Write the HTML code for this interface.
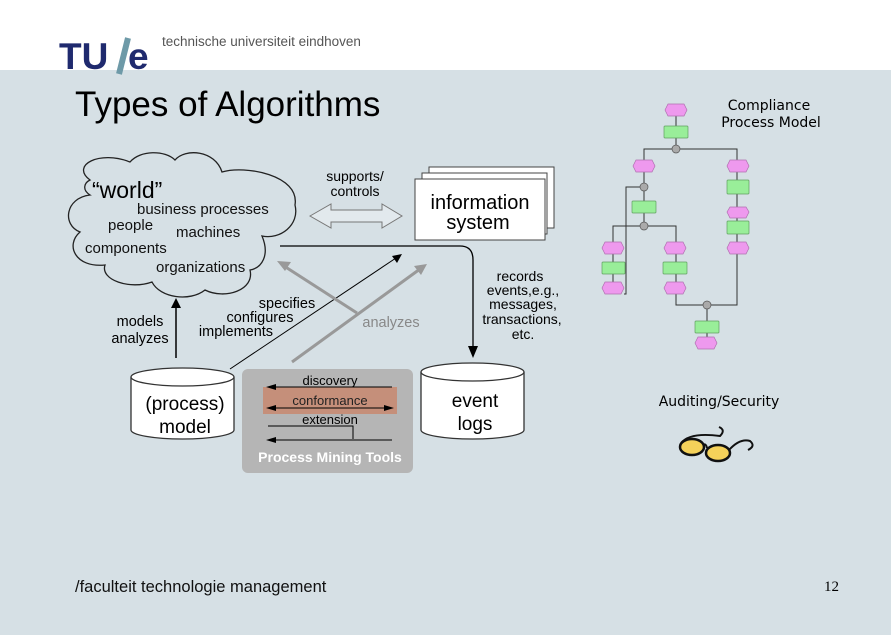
<!DOCTYPE html>
<html><head><meta charset="utf-8"><style>
body{margin:0;width:891px;height:630px;overflow:hidden;background:#d6e0e5;font-family:"Liberation Sans",sans-serif}
</style></head><body>
<svg width="891" height="630" viewBox="0 0 891 630" xmlns="http://www.w3.org/2000/svg" font-family="Liberation Sans, sans-serif">
<rect x="0" y="0" width="891" height="70" fill="#fff"/>
<rect x="0" y="70" width="891" height="560" fill="#d6e0e5"/>
<text x="59" y="69" font-size="37" font-weight="bold" fill="#1f2a6e">TU</text>
<line x1="119" y1="74" x2="128" y2="38" stroke="#6e9aa8" stroke-width="6"/>
<text x="128" y="69" font-size="37" font-weight="bold" fill="#1f2a6e">e</text>
<text x="162" y="46" font-size="13.5" fill="#555">technische universiteit eindhoven</text>
<text x="75" y="116" font-size="35" fill="#000">Types of Algorithms</text>

<!-- cloud -->
<path d="M90,180 C70,165 100,150 130,162 C140,150 165,150 175,160 C185,148 215,150 222,172 C245,165 300,175 295,205 C300,225 280,240 262,236 C270,255 262,268 250,270 C255,290 225,300 205,290 C190,302 160,298 152,282 C130,290 100,280 105,265 C75,268 65,245 80,232 C62,225 65,198 90,195 C82,190 84,183 90,180 Z" fill="#d6e0e5" stroke="#222" stroke-width="1.3"/>
<text x="92" y="198" font-size="23">“world”</text>
<g font-size="15" fill="#111">
<text x="137" y="214">business processes</text>
<text x="108" y="230">people</text>
<text x="176" y="237">machines</text>
<text x="85" y="253">components</text>
<text x="156" y="272">organizations</text>
</g>
<!-- supports -->
<text x="355" y="181" font-size="14" text-anchor="middle">supports/</text>
<text x="355" y="196" font-size="14" text-anchor="middle">controls</text>
<path d="M310,216 L331,204 L331,210 L382,210 L382,204 L402,216 L382,228 L382,222 L331,222 L331,228 Z" fill="#fff" fill-opacity="0.3" stroke="#777" stroke-width="1"/>
<!-- info system -->
<rect x="429" y="167" width="125" height="61" fill="#fff" stroke="#444"/>
<rect x="422" y="173" width="125" height="61" fill="#fff" stroke="#444"/>
<rect x="415" y="179" width="130" height="61" fill="#fff" stroke="#444"/>
<text x="480" y="209" font-size="20" text-anchor="middle">information</text>
<text x="478" y="229" font-size="20" text-anchor="middle">system</text>
<!-- records line -->
<path d="M280,246 L460,246 Q473,246 473,260 L473,348" fill="none" stroke="#000" stroke-width="1.3"/>
<polygon points="468,346 478,346 473,358" fill="#000"/>
<g font-size="14" text-anchor="middle">
<text x="520" y="281">records</text>
<text x="523" y="295">events,e.g.,</text>
<text x="523" y="309">messages,</text>
<text x="522" y="324">transactions,</text>
<text x="523" y="339">etc.</text>
</g>
<!-- models arrow -->
<line x1="176" y1="358" x2="176" y2="306" stroke="#000" stroke-width="1.5"/>
<polygon points="171,308 181,308 176,298" fill="#000"/>
<text x="140" y="326" font-size="14.5" text-anchor="middle">models</text>
<text x="140" y="343" font-size="14.5" text-anchor="middle">analyzes</text>
<!-- specifies arrow -->
<line x1="230" y1="369" x2="396" y2="258" stroke="#000" stroke-width="1"/>
<polygon points="402,254 392,256 397,263" fill="#000"/>
<g font-size="14.5" text-anchor="middle">
<text x="287" y="308">specifies</text>
<text x="260" y="322">configures</text>
<text x="236" y="336">implements</text>
</g>
<!-- grey arrows -->
<line x1="357" y1="313" x2="284" y2="266" stroke="#999" stroke-width="3"/>
<polygon points="277,261 291,262 285,271" fill="#999"/>
<line x1="292" y1="362" x2="420" y2="269" stroke="#999" stroke-width="3"/>
<polygon points="427,264 414,266 421,275" fill="#999"/>
<text x="391" y="327" font-size="14.5" fill="#888" text-anchor="middle">analyzes</text>
<!-- cylinders -->
<path d="M131,377 L131,430 A51.5,9 0 0 0 234,430 L234,377" fill="#fff" stroke="#333" stroke-width="1.3"/>
<ellipse cx="182.5" cy="377" rx="51.5" ry="9" fill="#fff" stroke="#333" stroke-width="1.3"/>
<text x="185" y="410" font-size="19" text-anchor="middle">(process)</text>
<text x="185" y="433" font-size="19" text-anchor="middle">model</text>
<path d="M421,372 L421,430 A51.5,9 0 0 0 524,430 L524,372" fill="#fff" stroke="#333" stroke-width="1.3"/>
<ellipse cx="472.5" cy="372" rx="51.5" ry="9" fill="#fff" stroke="#333" stroke-width="1.3"/>
<text x="475" y="407" font-size="19" text-anchor="middle">event</text>
<text x="475" y="430" font-size="19" text-anchor="middle">logs</text>
<!-- PMT -->
<rect x="242" y="369" width="171" height="104" rx="6" fill="#b5b5b5"/>
<rect x="263" y="387" width="134" height="27" fill="#c58f7a"/>
<text x="330" y="385" font-size="13" text-anchor="middle">discovery</text>
<text x="330" y="405" font-size="13" fill="#222" text-anchor="middle">conformance</text>
<text x="330" y="424" font-size="13" text-anchor="middle">extension</text>
<line x1="270" y1="387" x2="392" y2="387" stroke="#000"/>
<polygon points="266,387 276,384 276,390" fill="#000"/>
<line x1="270" y1="408" x2="390" y2="408" stroke="#000"/>
<polygon points="266,408 276,405 276,411" fill="#000"/>
<polygon points="394,408 384,405 384,411" fill="#000"/>
<polyline points="268,426 353,426 353,439" fill="none" stroke="#000"/>
<line x1="270" y1="440" x2="392" y2="440" stroke="#000"/>
<polygon points="266,440 276,437 276,443" fill="#000"/>
<text x="330" y="462" font-size="14" font-weight="bold" fill="#fff" text-anchor="middle">Process Mining Tools</text>

<!-- compliance model -->
<text x="769" y="110" font-size="14" font-family="DejaVu Sans" text-anchor="middle">Compliance</text>
<text x="771" y="127" font-size="14" font-family="DejaVu Sans" text-anchor="middle">Process Model</text>
<g stroke="#333" stroke-width="1" fill="none">
<path d="M676,116 V126 M676,138 V149 M644,160 V149 H737 V160 M644,172 V201 M644,213 V226 M613,242 V226 H676 V242 M613,254 V262 M613,274 V282 M676,254 V262 M676,274 V282 M737,172 V180 M737,194 V207 M737,218 V221 M737,234 V242 M737,254 V305 H676 V294 M707,305 V321 M707,333 V337 M624,294 H626 V187 H640"/>
</g>
<g fill="#ee99ee" stroke="#b070b0" stroke-width="0.7">
<path d="M665,110 l3,-6 h16 l3,6 l-3,6 h-16 z"/>
<path d="M633,166 l3,-6 h16 l3,6 l-3,6 h-16 z"/>
<path d="M727,166 l3,-6 h16 l3,6 l-3,6 h-16 z"/>
<path d="M727,212 l3,-5 h16 l3,5 l-3,6 h-16 z"/>
<path d="M727,248 l3,-6 h16 l3,6 l-3,6 h-16 z"/>
<path d="M602,248 l3,-6 h16 l3,6 l-3,6 h-16 z"/>
<path d="M602,288 l3,-6 h16 l3,6 l-3,6 h-16 z"/>
<path d="M664,248 l3,-6 h16 l3,6 l-3,6 h-16 z"/>
<path d="M664,288 l3,-6 h16 l3,6 l-3,6 h-16 z"/>
<path d="M695,343 l3,-6 h16 l3,6 l-3,6 h-16 z"/>
</g>
<g fill="#99ee99" stroke="#60a060" stroke-width="0.7">
<rect x="664" y="126" width="24" height="12" rx="1"/>
<rect x="632" y="201" width="24" height="12" rx="1"/>
<rect x="727" y="180" width="22" height="14" rx="1"/>
<rect x="727" y="221" width="22" height="13" rx="1"/>
<rect x="602" y="262" width="23" height="12" rx="1"/>
<rect x="663" y="262" width="24" height="12" rx="1"/>
<rect x="695" y="321" width="24" height="12" rx="1"/>
</g>
<g fill="#aaa" stroke="#555" stroke-width="0.7">
<circle cx="676" cy="149" r="4"/><circle cx="644" cy="187" r="4"/><circle cx="644" cy="226" r="4"/><circle cx="707" cy="305" r="4"/>
</g>
<text x="719" y="406" font-size="14" font-family="DejaVu Sans" text-anchor="middle">Auditing/Security</text>
<!-- glasses -->
<g stroke="#111" stroke-width="2.5" fill="#f5d25a">
<ellipse cx="692" cy="447" rx="12" ry="8"/>
<ellipse cx="718" cy="453" rx="12" ry="8"/>
</g>
<path d="M703,445 Q706,443 707,448 M729,450 Q740,438 750,441 Q756,446 748,450 M681,443 Q690,432 720,436 Q726,430 719,427" fill="none" stroke="#111" stroke-width="2"/>

<text x="75" y="592" font-size="16.5" fill="#111">/faculteit technologie management</text>
<text x="839" y="591" font-size="15" font-family="Liberation Serif" text-anchor="end">12</text>
</svg>
</body></html>
